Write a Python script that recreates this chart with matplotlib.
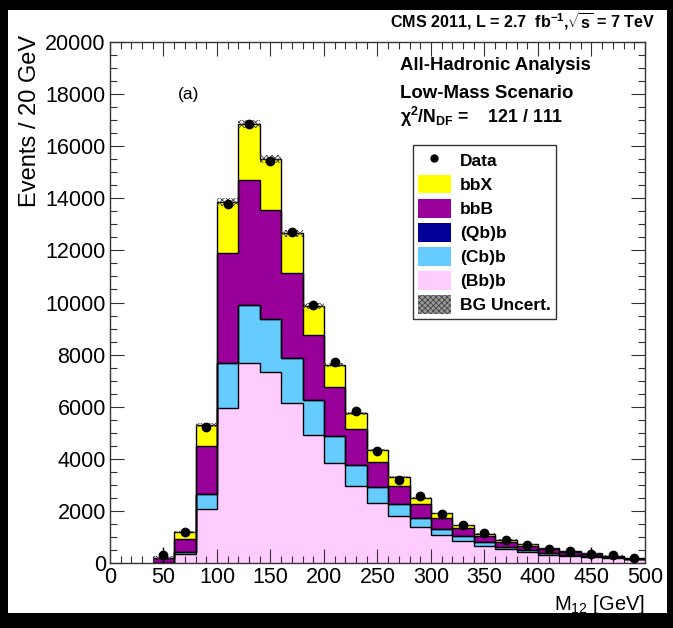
import matplotlib
matplotlib.use("Agg")
import matplotlib.pyplot as plt
import numpy as np
from matplotlib.lines import Line2D
from matplotlib.patches import Patch, Rectangle
from matplotlib.ticker import MultipleLocator

plt.rcParams['font.family'] = ['Liberation Sans', 'DejaVu Sans']
plt.rcParams['mathtext.fontset'] = 'custom'
plt.rcParams['mathtext.rm'] = 'Liberation Sans'
plt.rcParams['mathtext.it'] = 'Liberation Sans:italic'
plt.rcParams['mathtext.bf'] = 'Liberation Sans:bold'
plt.rcParams['hatch.linewidth'] = 0.6

# 20 GeV bins from 40 to 500 GeV
edges = np.arange(40, 520, 20)

# background templates (events / bin), stacked bottom -> top
bb_b = [0, 345, 2060, 5960, 7690, 7330, 6155, 4915, 3825, 2970, 2290, 1790,
        1370, 1060, 855, 665, 525, 410, 320, 270, 245, 190, 140]
cb_b = [0, 85, 600, 1730, 2200, 2020, 1705, 1340, 1050, 790, 615, 460,
        345, 245, 180, 140, 100, 75, 75, 35, 25, 35, 20]
qb_b = [0, 0, 0, 0, 0, 0, 0, 0, 0, 0, 0, 0,
        0, 0, 0, 0, 0, 0, 0, 0, 0, 0, 0]
bbB = [190, 503, 1820, 4200, 4800, 4200, 3285, 2510, 1870, 1370, 985, 705,
       535, 435, 295, 230, 195, 180, 130, 115, 65, 20, 5]
bbX = [20, 245, 820, 1980, 2160, 1950, 1510, 1100, 855, 615, 450, 340,
       260, 165, 115, 90, 75, 50, 40, 40, 35, 35, 25]
bg_unc = [60, 40, 80, 150, 170, 160, 130, 100, 80, 60, 50, 40,
          35, 30, 25, 20, 20, 20, 15, 15, 15, 15, 15]

data = [300, 1180, 5230, 13780, 16850, 15420, 12700, 9900, 7700, 5850, 4300, 3180,
        2580, 1870, 1440, 1150, 890, 700, 530, 470, 360, 300, 200]
data_err = [300, 60, 100, 150, 170, 160, 140, 120, 110, 90, 80, 70,
            60, 50, 45, 40, 35, 40, 40, 50, 250, 50, 40]

C_BBX = '#FFFF00'
C_BBB = '#990099'
C_QBB = '#000099'
C_CBB = '#66CCFF'
C_BBb = '#FFCCFF'

layers = [
    (bb_b, C_BBb),
    (cb_b, C_CBB),
    (qb_b, C_QBB),
    (bbB, C_BBB),
    (bbX, C_BBX),
]

fig = plt.figure(figsize=(6.73, 6.28), dpi=100, facecolor='black')
fig.patches.append(Rectangle((8 / 673, 1 - 613 / 628), 659 / 673, 603 / 628,
                             transform=fig.transFigure, facecolor='white',
                             edgecolor='none', zorder=-5))
ax = fig.add_axes([0.1634, 0.1035, 0.9584 - 0.1634, 0.9331 - 0.1035])
ax.set_zorder(2)
ax.patch.set_alpha(0)

# filled stack
base = np.zeros(len(data))
tops = []
for vals, color in layers:
    top = base + np.asarray(vals, dtype=float)
    ax.stairs(top, edges, baseline=base, fill=True, color=color, lw=0, zorder=1)
    tops.append(top)
    base = top

# step outlines of each layer
for top in tops:
    ax.stairs(top, edges, baseline=None, color='black', lw=1.0, zorder=2)

# background uncertainty band
total = tops[-1]
unc = np.asarray(bg_unc, dtype=float)
ax.stairs(total + unc, edges, baseline=total - unc, fill=True,
          facecolor='none', edgecolor='#444444', hatch='xxxxxx', lw=0, zorder=3)

centers = edges[:-1] + 10
ax.errorbar(centers, data, yerr=data_err, fmt='o', color='black', ms=6,
            elinewidth=1, capsize=0, zorder=4)

ax.set_xlim(0, 500)
ax.set_ylim(0, 20000)
ax.xaxis.set_major_locator(MultipleLocator(50))
ax.xaxis.set_minor_locator(MultipleLocator(10))
ax.yaxis.set_major_locator(MultipleLocator(2000))
ax.yaxis.set_minor_locator(MultipleLocator(500))
ax.tick_params(which='both', direction='in', top=True, right=True,
               width=0.8, color='#333333')
ax.tick_params(which='major', length=10, labelsize=15.5, pad=3)
ax.tick_params(which='minor', length=5)
for sp in ax.spines.values():
    sp.set_linewidth(1)
    sp.set_color('#333333')

fig.text(30 / 673, 1 - 35 / 628, 'Events / 20 GeV', rotation=90,
         ha='center', va='top', fontsize=17)
fig.text(645 / 673, 1 - 605 / 628, r'M$_{\mathrm{12}}$ [GeV]',
         ha='right', va='center', fontsize=14.5)

handles = [
    Line2D([], [], marker='o', ls='none', color='black', ms=5),
    Patch(facecolor=C_BBX, edgecolor='none'),
    Patch(facecolor=C_BBB, edgecolor='none'),
    Patch(facecolor=C_QBB, edgecolor='none'),
    Patch(facecolor=C_CBB, edgecolor='none'),
    Patch(facecolor=C_BBb, edgecolor='none'),
    Patch(facecolor='#999999', edgecolor='#444444', hatch='xxxxxx', lw=0),
]
labels = ['Data', 'bbX', 'bbB', '(Qb)b', '(Cb)b', '(Bb)b', 'BG Uncert.']
leg = ax.legend(handles, labels, loc='upper left', bbox_to_anchor=(0.566, 0.802),
                borderaxespad=0, prop={'weight': 'bold', 'size': 12.5},
                fancybox=False, edgecolor='#333333', framealpha=1,
                handlelength=1.9, handleheight=1.3, labelspacing=0.3,
                borderpad=0.3, handletextpad=0.5)
leg.get_frame().set_linewidth(1)

fig.text(655 / 673, 1 - 21 / 628,
         r'CMS 2011, L = 2.7  fb$^{\mathbf{-1}}$,$\sqrt{\mathbf{s}}$ = 7 TeV',
         ha='right', va='center', fontsize=11.6, weight='bold')
fig.text(400 / 673, 1 - 66 / 628, 'All-Hadronic Analysis',
         ha='left', va='center', fontsize=13.4, weight='bold')
fig.text(400 / 673, 1 - 93 / 628, 'Low-Mass Scenario',
         ha='left', va='center', fontsize=13.4, weight='bold')
fig.text(400 / 673, 1 - 117 / 628, r'χ$^{\mathbf{2}}$/N$_{\mathbf{DF}}$ =    121 / 111',
         ha='left', va='center', fontsize=12.8, weight='bold')
fig.text(178 / 673, 1 - 95 / 628, '(a)', ha='left', va='center', fontsize=12.5)

fig.savefig('out.png', dpi=100, facecolor=fig.get_facecolor())
